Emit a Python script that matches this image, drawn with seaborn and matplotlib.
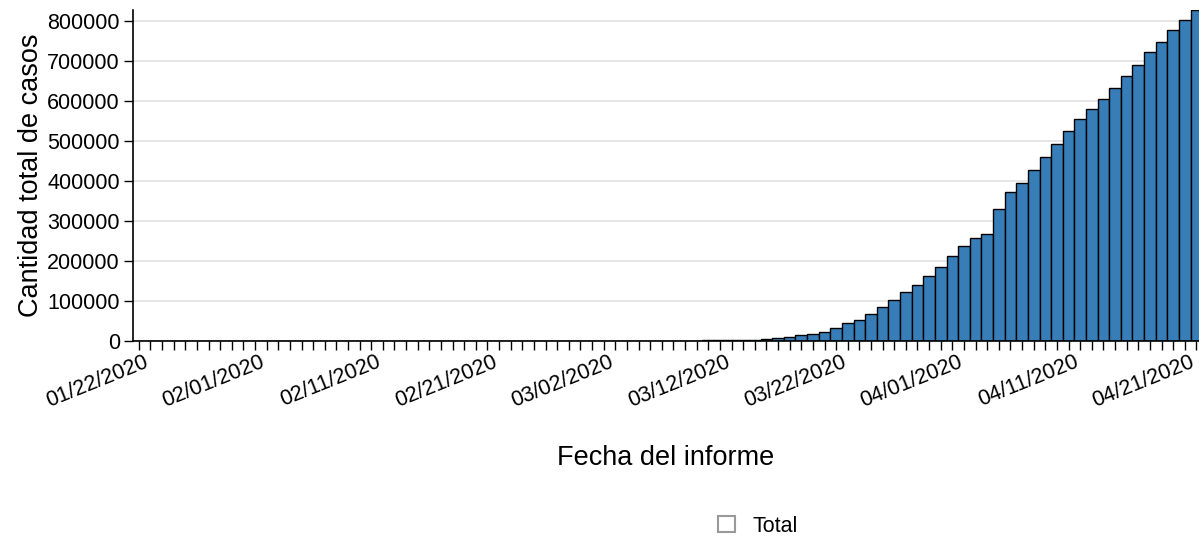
import pandas as pd
import seaborn as sb
import matplotlib
import matplotlib.pyplot as plt
import matplotlib.transforms as mtransforms
from matplotlib.patches import Patch
matplotlib.use('agg')

# report dates, one bar per day
fechas = pd.date_range("2020-01-22", "2020-04-22", freq="D").strftime("%m/%d/%Y").tolist()

# cumulative cases
casos_ene = [1, 1, 2, 2, 5, 5, 5, 5, 5, 7]
casos_feb = [8, 8, 11, 11, 11, 11, 11, 11, 11, 11, 12, 12, 13, 13, 13, 13, 13, 13, 13, 13,
             15, 15, 15, 51, 51, 57, 58, 60, 68]
casos_mar = [74, 98, 118, 149, 217, 262, 402, 518, 583, 959, 1281, 1663, 2179, 2727,
             3500, 4200, 6600, 10000, 14000, 17500, 23000, 32500, 44000, 53000, 68000,
             84000, 102500, 122000, 140000, 162000, 186000]
casos_abr = [212000, 238000, 257000, 267000, 330000, 373000, 396000, 427000, 459000, 492000,
             525000, 555000, 579000, 605000, 632000, 661000, 690000, 721000, 746000, 776000,
             802000, 827000]
casos = casos_ene + casos_feb + casos_mar + casos_abr
yticks = [0, 100000, 200000, 300000, 400000, 500000, 600000, 700000, 800000]

df = pd.DataFrame({"fecha": fechas, "total": casos})

sb.set_style("white")
plt.rcParams['font.family'] = ['Liberation Sans', 'DejaVu Sans']
plt.rcParams['text.color'] = 'black'
plt.rcParams['axes.labelcolor'] = 'black'
plt.rcParams['xtick.color'] = 'black'
plt.rcParams['ytick.color'] = 'black'

W, H = 1199, 539
fig = plt.figure(figsize=(W / 100, H / 100), dpi=100)
ax = fig.add_axes([133 / W, 1 - 341 / H, (W - 133) / W, 331 / H])

sb.barplot(data=df, x="fecha", y="total", order=fechas, color="#377eb8", saturation=1,
           width=1.0, edgecolor="black", linewidth=1.0, ax=ax, zorder=2)

# first bar centred 6px right of the axis, step ~11.62px, last bar cut by the edge
ax.set_xlim(-0.5, (W - 139) / 11.62)
ax.set_ylim(0, max(casos))
ax.set_yticks(yticks)
ax.set_yticklabels([str(v) for v in yticks], fontsize=15.5)
ax.yaxis.grid(True, color="#e4e4e4", linewidth=1.3, zorder=0)
ax.set_axisbelow(True)

ax.set_xticks(range(len(fechas)))
ax.set_xticklabels([f if i % 10 == 0 else "" for i, f in enumerate(fechas)],
                   rotation=22, ha="right", rotation_mode="anchor", fontsize=15.5)
ax.tick_params(axis="both", direction="out", length=6.5, width=1, color="black",
               bottom=True, left=True)
ax.tick_params(axis="x", pad=1)
ax.tick_params(axis="y", pad=3)

# nudge the date labels a bit to the right, like the original
shift = mtransforms.ScaledTranslation(5 / 100, 0, fig.dpi_scale_trans)
for lbl in ax.get_xticklabels():
    lbl.set_transform(lbl.get_transform() + shift)

for s in ["top", "right"]:
    ax.spines[s].set_visible(False)
for s in ["left", "bottom"]:
    ax.spines[s].set_color("black")
    ax.spines[s].set_linewidth(1.2)

ax.set_xlabel("Fecha del informe", fontsize=19.5, labelpad=24)
ax.set_ylabel("Cantidad total de casos", fontsize=19.5, labelpad=2)

fig.legend(handles=[Patch(facecolor="white", edgecolor="#999999", linewidth=1.5, label="Total")],
           loc="center", bbox_to_anchor=(758 / W, 1 - 526 / H), frameon=False,
           fontsize=15.5, handlelength=0.8, handleheight=0.8, handletextpad=0.8)

plt.savefig("out.png", dpi=100)
plt.close()
